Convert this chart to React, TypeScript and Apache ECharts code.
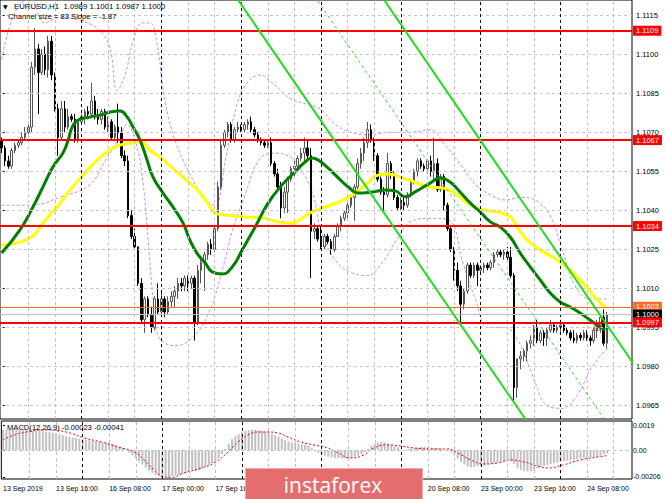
import React, { useEffect, useRef } from "react";
import * as echarts from "echarts";

// ---------- categories / ticks ----------
const dayLabels = ["13 Sep", "16 Sep", "17 Sep", "18 Sep", "19 Sep", "20 Sep", "23 Sep", "24 Sep"];
const firstLabelText = "13 Sep 2019";
const slotCount = 190;
const labelEvery = 16;
const hiddenLabelSlots = [80, 96, 112]; // covered by the watermark in the reference
const gridEvery = 8;
const barsPerDay = 24;

const priceTicks = [1.0965, 1.098, 1.0995, 1.101, 1.1025, 1.104, 1.1055, 1.107, 1.1085, 1.11, 1.1115];
const priceAxisMin = 1.09599;
const priceAxisMax = 1.11208;
const macdTicks = [0.0019, 0, -0.00206];
const macdTickText = ["0.0019", "0.00", "-0.00206"];
const macdAxisMin = -0.00222;
const macdAxisMax = 0.00226;

// ---------- candles: open, high, low, close ----------
const ohlc: number[][] = [
  [1.1067, 1.1068, 1.1062, 1.1064], [1.1064, 1.1065, 1.1057, 1.1059], [1.1059, 1.1061, 1.1056, 1.1057], [1.1057, 1.1064, 1.1056, 1.1063],
  [1.1063, 1.1066, 1.1062, 1.1065], [1.1065, 1.1067, 1.1064, 1.1066], [1.1066, 1.107, 1.1065, 1.1068], [1.1068, 1.1072, 1.1067, 1.107],
  [1.107, 1.1074, 1.1068, 1.1072], [1.1072, 1.1097, 1.107, 1.1095], [1.1095, 1.111, 1.1092, 1.1102], [1.1102, 1.1104, 1.1077, 1.1093],
  [1.1093, 1.1102, 1.1092, 1.11], [1.11, 1.1103, 1.1092, 1.1094], [1.1094, 1.1107, 1.1091, 1.1105], [1.1105, 1.1107, 1.109, 1.1092],
  [1.1092, 1.1093, 1.1078, 1.1079], [1.1079, 1.1081, 1.1061, 1.1068], [1.1068, 1.1082, 1.1067, 1.1079], [1.1079, 1.1082, 1.107, 1.1072],
  [1.1072, 1.1079, 1.1071, 1.1076], [1.1076, 1.1077, 1.1074, 1.1075], [1.1075, 1.1077, 1.1066, 1.1067], [1.1067, 1.1075, 1.1066, 1.1074],
  [1.1074, 1.1077, 1.1073, 1.1076], [1.1076, 1.1079, 1.1073, 1.1078], [1.1078, 1.108, 1.1075, 1.1077], [1.1077, 1.1089, 1.1076, 1.1082],
  [1.1082, 1.1084, 1.1075, 1.1076], [1.1076, 1.1079, 1.1073, 1.1075], [1.1075, 1.1079, 1.1073, 1.1078], [1.1078, 1.1079, 1.1071, 1.1072],
  [1.1072, 1.1076, 1.107, 1.1074], [1.1074, 1.1075, 1.1067, 1.1068], [1.1068, 1.1073, 1.1067, 1.1072], [1.1072, 1.1081, 1.1066, 1.107],
  [1.107, 1.1072, 1.106, 1.1061], [1.1061, 1.1063, 1.1057, 1.1059], [1.1059, 1.1061, 1.1037, 1.1038], [1.1038, 1.104, 1.1029, 1.103],
  [1.103, 1.1033, 1.1025, 1.1026], [1.1026, 1.1026, 1.1011, 1.1012], [1.1012, 1.1014, 1.0997, 1.0998], [1.0998, 1.1007, 1.0993, 1.1006],
  [1.1006, 1.1007, 1.0999, 1.1], [1.1, 1.1003, 1.0993, 1.0995], [1.0995, 1.1007, 1.0994, 1.1006], [1.1006, 1.1012, 1.1, 1.1001],
  [1.1001, 1.1009, 1.1, 1.1006], [1.1006, 1.1007, 1.0999, 1.1001], [1.1001, 1.1007, 1.1, 1.1005], [1.1005, 1.1009, 1.1003, 1.1007],
  [1.1007, 1.1011, 1.1003, 1.1009], [1.1009, 1.1014, 1.1006, 1.1012], [1.1012, 1.1014, 1.1009, 1.1011], [1.1011, 1.1015, 1.1009, 1.1014],
  [1.1014, 1.1015, 1.1009, 1.1012], [1.1012, 1.1015, 1.101, 1.1014], [1.1014, 1.1015, 1.099, 1.0997], [1.0997, 1.1019, 1.0996, 1.1017],
  [1.1017, 1.1022, 1.1012, 1.102], [1.102, 1.1024, 1.1009, 1.1023], [1.1023, 1.1028, 1.1021, 1.1027], [1.1027, 1.1029, 1.1023, 1.1025],
  [1.1025, 1.1034, 1.1024, 1.1033], [1.1033, 1.1051, 1.1032, 1.1049], [1.1049, 1.1067, 1.1048, 1.1065], [1.1065, 1.1071, 1.1064, 1.107],
  [1.107, 1.1074, 1.1068, 1.1073], [1.1073, 1.1074, 1.1066, 1.1067], [1.1067, 1.1072, 1.1066, 1.1071], [1.1071, 1.1074, 1.107, 1.1072],
  [1.1072, 1.1073, 1.107, 1.1071], [1.1071, 1.1074, 1.107, 1.1073], [1.1073, 1.1075, 1.1071, 1.1074], [1.1074, 1.1076, 1.107, 1.1071],
  [1.1071, 1.1072, 1.1068, 1.1069], [1.1069, 1.107, 1.1066, 1.1067], [1.1067, 1.1068, 1.1065, 1.1066], [1.1066, 1.1067, 1.1064, 1.1065],
  [1.1065, 1.1067, 1.1064, 1.1066], [1.1066, 1.1068, 1.1057, 1.1058], [1.1058, 1.1059, 1.1053, 1.1054], [1.1054, 1.1056, 1.1047, 1.1049],
  [1.1049, 1.1051, 1.1037, 1.1041], [1.1041, 1.1049, 1.1039, 1.1047], [1.1047, 1.1053, 1.1039, 1.1052], [1.1052, 1.1057, 1.1051, 1.1056],
  [1.1056, 1.1059, 1.1053, 1.1057], [1.1057, 1.1061, 1.1055, 1.106], [1.106, 1.1064, 1.1059, 1.1062], [1.1062, 1.1068, 1.1059, 1.1064],
  [1.1064, 1.1067, 1.1059, 1.1061], [1.1061, 1.1064, 1.1014, 1.1032], [1.1032, 1.1035, 1.1029, 1.1033], [1.1033, 1.1034, 1.1028, 1.1029],
  [1.1029, 1.1034, 1.1025, 1.1026], [1.1026, 1.1031, 1.1025, 1.103], [1.103, 1.1031, 1.1027, 1.1028], [1.1028, 1.1029, 1.1023, 1.1025],
  [1.1025, 1.1031, 1.1024, 1.103], [1.103, 1.1035, 1.103, 1.1034], [1.1034, 1.1038, 1.1032, 1.1037], [1.1037, 1.104, 1.1036, 1.1039],
  [1.1039, 1.1043, 1.1037, 1.1042], [1.1042, 1.1046, 1.1041, 1.1045], [1.1045, 1.105, 1.1036, 1.1049], [1.1049, 1.106, 1.1048, 1.1058],
  [1.1058, 1.1064, 1.1056, 1.1062], [1.1062, 1.1068, 1.1059, 1.1066], [1.1066, 1.1074, 1.1064, 1.1071], [1.1071, 1.1073, 1.1066, 1.1067],
  [1.1067, 1.1068, 1.1059, 1.1061], [1.1061, 1.1062, 1.1051, 1.1052], [1.1052, 1.1053, 1.1046, 1.1047], [1.1047, 1.1049, 1.104, 1.1046],
  [1.1046, 1.1062, 1.1045, 1.1058], [1.1058, 1.1059, 1.1052, 1.1054], [1.1054, 1.1055, 1.1044, 1.1045], [1.1045, 1.1046, 1.104, 1.1041],
  [1.1041, 1.1045, 1.104, 1.1043], [1.1043, 1.1045, 1.104, 1.1042], [1.1042, 1.1047, 1.1041, 1.1046], [1.1046, 1.1052, 1.1045, 1.1051],
  [1.1051, 1.1056, 1.105, 1.1055], [1.1055, 1.106, 1.1053, 1.1059], [1.1059, 1.106, 1.1056, 1.1057], [1.1057, 1.1058, 1.1055, 1.1056],
  [1.1056, 1.106, 1.1054, 1.1059], [1.1059, 1.1061, 1.1053, 1.1055], [1.1055, 1.1068, 1.1052, 1.1058], [1.1058, 1.106, 1.1047, 1.1048],
  [1.1048, 1.1054, 1.1047, 1.1053], [1.1053, 1.1054, 1.104, 1.1042], [1.1042, 1.1043, 1.1032, 1.1033], [1.1033, 1.1034, 1.1024, 1.1025],
  [1.1025, 1.1026, 1.1013, 1.1017], [1.1017, 1.102, 1.1009, 1.1011], [1.1011, 1.1013, 1.0997, 1.1004], [1.1004, 1.101, 1.1002, 1.1009],
  [1.1009, 1.102, 1.1008, 1.1019], [1.1019, 1.102, 1.1014, 1.1015], [1.1015, 1.102, 1.1014, 1.1019], [1.1019, 1.102, 1.1011, 1.1017],
  [1.1017, 1.1019, 1.1016, 1.1018], [1.1018, 1.102, 1.1016, 1.1019], [1.1019, 1.102, 1.1017, 1.1018], [1.1018, 1.1021, 1.1017, 1.102],
  [1.102, 1.1024, 1.1018, 1.1023], [1.1023, 1.1025, 1.1022, 1.1024], [1.1024, 1.1025, 1.1022, 1.1023], [1.1023, 1.1025, 1.1021, 1.1024],
  [1.1024, 1.1026, 1.1021, 1.1022], [1.1022, 1.1026, 1.1014, 1.1015], [1.1015, 1.1016, 1.0967, 1.0972], [1.0972, 1.0983, 1.0968, 1.0983],
  [1.0983, 1.0986, 1.0979, 1.0984], [1.0984, 1.0987, 1.0982, 1.0986], [1.0986, 1.099, 1.0982, 1.0989], [1.0989, 1.0992, 1.0987, 1.099],
  [1.099, 1.0996, 1.0988, 1.0995], [1.0995, 1.0998, 1.0989, 1.099], [1.099, 1.0994, 1.0989, 1.0993], [1.0993, 1.0994, 1.0988, 1.0991],
  [1.0991, 1.0995, 1.0988, 1.0994], [1.0994, 1.0998, 1.0993, 1.0996], [1.0996, 1.0997, 1.0993, 1.0994], [1.0994, 1.0996, 1.0993, 1.0995],
  [1.0995, 1.0998, 1.0993, 1.0996], [1.0996, 1.0997, 1.0993, 1.0994], [1.0994, 1.0995, 1.0992, 1.0993], [1.0993, 1.0994, 1.099, 1.0991],
  [1.0991, 1.0994, 1.0989, 1.099], [1.099, 1.0993, 1.0989, 1.0992], [1.0992, 1.0993, 1.099, 1.0991], [1.0991, 1.0994, 1.099, 1.0993],
  [1.0993, 1.0994, 1.099, 1.0991], [1.0991, 1.0992, 1.0988, 1.099], [1.099, 1.0995, 1.0989, 1.0994], [1.0994, 1.0998, 1.0991, 1.0996],
  [1.0996, 1.1, 1.0993, 1.0999], [1.0999, 1.1002, 1.0988, 1.0989], [1.0989, 1.1001, 1.0987, 1.1],
];

// ---------- indicators: [bar index, value] ----------
const maGreen: number[][] = [
  [0, 1.10237], [5.5, 1.10325], [9.4, 1.10413], [12.4, 1.1049], [15.4, 1.10567], [18.4, 1.1062], [20, 1.1067], [21.2, 1.1072],
  [23, 1.10747], [26.6, 1.10759], [29.6, 1.10766], [32.6, 1.10778], [35.6, 1.10782], [37.7, 1.10759], [39.5, 1.1072], [41.6, 1.1067],
  [43.7, 1.10594], [45.5, 1.10528], [48.5, 1.10467], [51.5, 1.10413], [54.5, 1.10352], [56.6, 1.10286], [58.7, 1.10236], [61.2, 1.10198],
  [63.3, 1.10164], [66.3, 1.10156], [69.3, 1.10183], [72.3, 1.10248], [76.2, 1.10336], [80.1, 1.10428], [84.3, 1.10498], [88.2, 1.10548],
  [91.2, 1.10586], [93.3, 1.10601], [95.1, 1.10594], [98.1, 1.10563], [101.2, 1.10525], [104.2, 1.1049], [107.2, 1.10467], [111.4, 1.10471],
  [115.3, 1.10478], [118.3, 1.10475], [121.3, 1.10452], [124.3, 1.10471], [128.8, 1.10505], [131.8, 1.10524], [134.8, 1.10509],
  [137.8, 1.10471], [140.9, 1.10428], [143.9, 1.10394], [146.9, 1.10356], [149.9, 1.10336], [152.9, 1.10298], [155.9, 1.10236],
  [158.9, 1.10183], [161.9, 1.10133], [164.9, 1.10083], [167.9, 1.10048], [170.9, 1.10029], [173.9, 1.10006], [176.9, 1.09979],
  [179.9, 1.09952], [181.5, 1.09941],
];
const maYellow: number[][] = [
  [0, 1.10267], [8.5, 1.10294], [12.4, 1.10352], [16.6, 1.10413], [20.6, 1.10479], [24.5, 1.10536], [28.7, 1.10594], [32.6, 1.10632],
  [35.6, 1.10651], [39.5, 1.10659], [41.6, 1.10667], [44.6, 1.10632], [48.5, 1.10594], [52.7, 1.10548], [56.6, 1.10505], [59.7, 1.10467],
  [62.7, 1.10413], [64.2, 1.1039], [67.2, 1.10382], [73.2, 1.10375], [78.3, 1.10371], [83.1, 1.10356], [87.3, 1.10352], [90.3, 1.10371],
  [93.3, 1.10394], [97.2, 1.10413], [101.2, 1.10432], [105.4, 1.10459], [109.3, 1.10498], [113.2, 1.10536], [116.2, 1.1054],
  [120.4, 1.10525], [124.3, 1.10509], [128.8, 1.1049], [132.7, 1.10486], [137, 1.10459], [140.9, 1.10421], [144.8, 1.10402],
  [149, 1.10394], [152.9, 1.10375], [155, 1.10336], [158, 1.10286], [161.9, 1.10248], [167, 1.1021], [170.9, 1.10171],
  [174.8, 1.10121], [179.1, 1.10056], [181.5, 1.10029],
];
const bandUpper: number[][] = [
  [0, 1.1098], [2.5, 1.1111], [5.5, 1.1119], [8.5, 1.1121], [13, 1.1112], [17.5, 1.1114], [23.6, 1.1113], [29.6, 1.1109],
  [32.6, 1.1102], [34.7, 1.1086], [37.1, 1.1092], [39.5, 1.1105], [42.2, 1.1112], [44.6, 1.1112], [46.7, 1.1104], [49.1, 1.1082],
  [52.1, 1.1067], [56.6, 1.1054], [61.2, 1.1044], [64.2, 1.1042], [67.2, 1.1059], [70.2, 1.1078], [73.2, 1.1088], [77.7, 1.1092],
  [82.2, 1.1088], [86.7, 1.1083], [91.2, 1.1081], [95.7, 1.1079], [100.3, 1.1073], [104.8, 1.107], [110.8, 1.1069], [116.8, 1.107],
  [122.8, 1.107], [128.8, 1.1071], [133.3, 1.1065], [137.8, 1.1058], [142.4, 1.105], [146.9, 1.1046], [151.4, 1.1044], [155.9, 1.1045],
  [160.4, 1.1044], [164.9, 1.1038], [168.5, 1.1025], [172.4, 1.1011], [176.9, 1.1006], [182.1, 1.1006],
];
const bandLower: number[][] = [
  [0, 1.1042], [8.5, 1.1042], [17.5, 1.1045], [26.6, 1.105], [31.1, 1.1059], [35, 1.1067], [37.7, 1.1073], [40.1, 1.1067],
  [42.2, 1.1054], [44, 1.1029], [45.5, 1.1006], [47, 1.0992], [52.1, 1.0988], [58.1, 1.0992], [62.7, 1.1002], [66.3, 1.1017],
  [69.3, 1.1032], [73.2, 1.1046], [77.1, 1.1059], [81.3, 1.1062], [86.1, 1.1061], [90.3, 1.1055], [93.6, 1.1046], [96.3, 1.1031],
  [100.9, 1.102], [105.4, 1.1016], [109.9, 1.1015], [114.4, 1.102], [118.9, 1.1029], [123.4, 1.1036], [129.4, 1.1037], [134.8, 1.1036],
  [138.4, 1.1021], [142.4, 1.1006], [146.3, 1.0995], [151.4, 1.0995], [155.3, 1.099], [159.5, 1.0977], [164, 1.0965], [168.5, 1.0964],
  [173, 1.0969], [177.5, 1.098], [182.1, 1.0987],
];
const channelLower: number[][] = [[69, 1.11247], [160, 1.09551]];
const channelUpper: number[][] = [[113, 1.11245], [190, 1.0981]];
const channelMiddle: number[][] = [[93, 1.11242], [185, 1.09527]];

const redLevels = [1.1109, 1.1067, 1.1034, 1.0997];
const pendingLevel = 1.1003;
const bidLevel = 1.1;
const signalMarks: number[][] = [[179, 1.0995]];

const macdHist = [
  0.00155, 0.00157, 0.00158, 0.00158, 0.00157, 0.00156, 0.00155, 0.00155, 0.00154, 0.00152,
  0.0015, 0.00148, 0.00146, 0.00143, 0.0014, 0.00136, 0.0013, 0.00124, 0.00115, 0.00108,
  0.00102, 0.00097, 0.00093, 0.00089, 0.00085, 0.00082, 0.00078, 0.00074, 0.00069, 0.00065,
  0.00062, 0.00058, 0.00054, 0.00048, 0.0004, 0.0003, 0.00018, 0.00002, -0.00018, -0.0004,
  -0.00062, -0.00085, -0.0011, -0.00135, -0.00155, -0.00175, -0.0019, -0.002, -0.00206, -0.00208,
  -0.00206, -0.002, -0.00195, -0.0019, -0.00183, -0.00176, -0.0017, -0.00163, -0.0016, -0.00152,
  -0.00142, -0.0013, -0.00118, -0.00102, -0.00085, -0.0006, -0.0003, 0.0001, 0.0005, 0.00085,
  0.0011, 0.00125, 0.00138, 0.00148, 0.00155, 0.00158, 0.00158, 0.00155, 0.0015, 0.00143,
  0.00135, 0.00125, 0.00115, 0.00102, 0.0009, 0.00078, 0.00068, 0.0006, 0.00055, 0.0005,
  0.00045, 0.0004, 0.00036, 0.0002, 0.0, -0.00018, -0.0003, -0.0004, -0.00048, -0.00055,
  -0.0006, -0.00062, -0.00062, -0.0006, -0.00058, -0.00055, -0.0005, -0.00042, -0.0003, -0.00012,
  0.0001, 0.00035, 0.0005, 0.0006, 0.00064, 0.0006, 0.00052, 0.00042, 0.00032, 0.00022,
  0.00005, 0.00002, 0.00008, 0.00013, 0.00018, 0.00022, 0.00025, 0.00025, 0.00022, 0.0002,
  0.00018, 0.00015, 0.00012, 0.00005, -0.00005, -0.00015, -0.0004, -0.00065, -0.0009, -0.0011,
  -0.00125, -0.0013, -0.00128, -0.00122, -0.00118, -0.00112, -0.00108, -0.00102, -0.00098, -0.00094,
  -0.0009, -0.00088, -0.00086, -0.00085, -0.00105, -0.00135, -0.00152, -0.0016, -0.00162, -0.00158,
  -0.0015, -0.0014, -0.0013, -0.0012, -0.00113, -0.00107, -0.001, -0.00095, -0.0009, -0.00085,
  -0.0008, -0.00076, -0.00072, -0.00068, -0.00064, -0.0006, -0.00058, -0.00056, -0.00054, -0.0005,
  -0.00042, -0.00032, -0.00023,
];
const macdSignal: number[][] = [
  [0, 0.0008], [2.5, 0.0011], [7, 0.00141], [13, 0.00157], [19, 0.00141], [24.5, 0.00095], [29.6, 0.00064], [34.7, 0.00025],
  [39.5, -0.00013], [42.5, -0.00075], [45.5, -0.00152], [48.5, -0.00206], [50.6, -0.0021], [54.5, -0.00175], [59.7, -0.00137],
  [63.6, -0.00098], [67.8, -0.00013], [70.8, 0.00064], [73.8, 0.00118], [76.8, 0.00141], [79.8, 0.00141], [82.8, 0.00134],
  [85.8, 0.00103], [89.7, 0.00064], [93.6, 0.00041], [97.8, 0.00018], [100.5, -0.00015], [104.8, -0.00059], [108.7, -0.00036],
  [111.7, 0.00018], [115.9, 0.00041], [119.8, 0.00033], [123.7, 0.00018], [128.8, 0.0001], [133.9, 0.0001], [137, -0.00021],
  [140.9, -0.00075], [144.8, -0.00106], [149, -0.00098], [152.9, -0.00075], [156.8, -0.0009], [161, -0.00121], [164, -0.00137],
  [168.8, -0.00113], [173.9, -0.00075], [179.1, -0.00052], [182.1, -0.00041],
];

const FONT = '"Liberation Sans", Arial, "DejaVu Sans", sans-serif';

function buildOption() {
  const categories = Array.from({ length: slotCount }, (_, i) => {
    const day = dayLabels[Math.floor(i / barsPerDay)];
    const h = i % barsPerDay;
    return `${day} ${String(h).padStart(2, "0")}:00`;
  });
  const candleData = ohlc.map(([o, h, l, c]) => [o, c, l, h]);
  const last = ohlc[ohlc.length - 1];

  const vLines: any[] = [];
  for (let i = gridEvery; i < slotCount; i += gridEvery) {
    const day = i % barsPerDay === 0;
    vLines.push({
      xAxis: i,
      lineStyle: { color: day ? "#000000" : "#c0c0c0", type: [3, 3], width: 1 },
      label: { show: false },
    });
  }
  const hLines = priceTicks.map((v) => ({
    yAxis: v,
    lineStyle: { color: "#c8c8c8", type: [3, 3], width: 1 },
    label: { show: false },
  }));

  const tag = (bg: string) => ({
    show: true,
    position: "end",
    distance: 1,
    color: "#ffffff",
    backgroundColor: bg,
    padding: [1, 3, 0, 3],
    fontSize: 7.5,
    lineHeight: 9,
    fontFamily: FONT,
  });
  const levelLines: any[] = [
    {
      yAxis: pendingLevel,
      lineStyle: { color: "#ff6a1a", width: 1, type: "solid" },
      label: { ...tag("#ff6a2a"), formatter: pendingLevel.toFixed(4) },
    },
    {
      yAxis: bidLevel,
      lineStyle: { color: "#c0c0c0", width: 1, type: "solid" },
      label: { ...tag("#000000"), formatter: bidLevel.toFixed(4) },
    },
    ...redLevels.map((v) => ({
      yAxis: v,
      lineStyle: { color: "#ff0000", width: 2, type: "solid" },
      label: { ...tag("#ff0000"), formatter: v.toFixed(4) },
    })),
  ];

  const lineCommon = { type: "line", showSymbol: false, symbol: "none", silent: true, clip: true, animation: false };

  return {
    animation: false,
    backgroundColor: "#ffffff",
    textStyle: { fontFamily: FONT },
    grid: [
      { left: 0, top: 0, width: 632, height: 419, show: true, borderColor: "#000000", borderWidth: 1, backgroundColor: "transparent" },
      { left: 0, top: 421, width: 632, height: 58, show: true, borderColor: "#000000", borderWidth: 1, backgroundColor: "transparent" },
    ],
    xAxis: [
      { type: "category", gridIndex: 0, data: categories, boundaryGap: true, axisLine: { show: false }, axisTick: { show: false }, axisLabel: { show: false }, splitLine: { show: false } },
      { type: "value", gridIndex: 0, min: -0.5, max: slotCount - 0.5, show: false },
      {
        type: "category", gridIndex: 1, data: categories, boundaryGap: true,
        axisLine: { show: false }, axisTick: { show: false }, splitLine: { show: false },
        axisLabel: {
          interval: (i: number) => i % labelEvery === 0 && !hiddenLabelSlots.includes(i),
          formatter: (v: string, i: number) => (i === 0 ? firstLabelText : v),
          align: "left", fontSize: 7, color: "#000000", margin: 6, fontFamily: FONT,
        },
      },
      { type: "value", gridIndex: 1, min: -0.5, max: slotCount - 0.5, show: false },
    ],
    yAxis: [
      {
        type: "value", gridIndex: 0, position: "right", min: priceAxisMin, max: priceAxisMax,
        axisLine: { show: false },
        axisTick: { show: true, length: 3, lineStyle: { color: "#000000" }, customValues: priceTicks },
        axisLabel: { customValues: priceTicks, formatter: (v: number) => v.toFixed(4), fontSize: 7.5, color: "#000000", margin: 4, fontFamily: FONT },
        splitLine: { show: false },
      },
      {
        type: "value", gridIndex: 1, position: "right", min: macdAxisMin, max: macdAxisMax,
        axisLine: { show: false },
        axisTick: { show: true, length: 2, lineStyle: { color: "#000000" }, customValues: macdTicks },
        axisLabel: {
          customValues: macdTicks,
          formatter: (v: number) => {
            const k = macdTicks.findIndex((t) => Math.abs(t - v) < 1e-7);
            return k >= 0 ? macdTickText[k] : "";
          },
          fontSize: 7, color: "#000000", margin: 1, fontFamily: FONT,
        },
        splitLine: { show: false },
      },
    ],
    series: [
      {
        ...lineCommon, name: "grid-main", xAxisIndex: 1, yAxisIndex: 0, data: [], z: 1,
        markLine: { silent: true, precision: 6, symbol: ["none", "none"], animation: false, data: [...hLines, ...vLines] },
      },
      {
        ...lineCommon, name: "grid-macd", xAxisIndex: 3, yAxisIndex: 1, data: [], z: 1,
        markLine: {
          silent: true, precision: 6, symbol: ["none", "none"], animation: false,
          data: [{ yAxis: 0, lineStyle: { color: "#c0c0c0", type: [3, 3], width: 1 }, label: { show: false } }, ...vLines],
        },
      },
      {
        ...lineCommon, name: "band-up", xAxisIndex: 1, yAxisIndex: 0, data: bandUpper, smooth: 0.4, z: 2,
        lineStyle: { color: "#c98ef0", width: 1, type: [3, 2] },
      },
      {
        ...lineCommon, name: "band-low", xAxisIndex: 1, yAxisIndex: 0, data: bandLower, smooth: 0.4, z: 2,
        lineStyle: { color: "#c98ef0", width: 1, type: [3, 2] },
      },
      {
        type: "candlestick", name: "EURUSD", xAxisIndex: 0, yAxisIndex: 0, data: candleData, barWidth: 2, z: 3, silent: true,
        itemStyle: { color: "#ffffff", color0: "#000000", borderColor: "#555555", borderColor0: "#000000", borderWidth: 1 },
      },
      {
        ...lineCommon, name: "ma-yellow", xAxisIndex: 1, yAxisIndex: 0, data: maYellow, smooth: 0.5, z: 4,
        lineStyle: { color: "#ffff00", width: 3 },
      },
      {
        ...lineCommon, name: "ma-green", xAxisIndex: 1, yAxisIndex: 0, data: maGreen, smooth: 0.5, z: 4,
        lineStyle: { color: "#008000", width: 3 },
      },
      {
        ...lineCommon, name: "levels", xAxisIndex: 1, yAxisIndex: 0, data: [], z: 5,
        markLine: { silent: true, precision: 6, symbol: ["none", "none"], animation: false, data: levelLines },
      },
      {
        ...lineCommon, name: "ch-low", xAxisIndex: 1, yAxisIndex: 0, data: channelLower, z: 6,
        lineStyle: { color: "#22dd22", width: 2 },
      },
      {
        ...lineCommon, name: "ch-up", xAxisIndex: 1, yAxisIndex: 0, data: channelUpper, z: 6,
        lineStyle: { color: "#22dd22", width: 2 },
      },
      {
        ...lineCommon, name: "ch-mid", xAxisIndex: 1, yAxisIndex: 0, data: channelMiddle, z: 6,
        lineStyle: { color: "#33dd33", width: 1, type: [3, 3] },
      },
      {
        type: "scatter", name: "mark", xAxisIndex: 1, yAxisIndex: 0, data: signalMarks, symbol: "circle", symbolSize: 6, z: 7, silent: true,
        itemStyle: { color: "rgba(0,0,0,0)", borderColor: "#ff0000", borderWidth: 1 },
      },
      {
        type: "bar", name: "MACD", xAxisIndex: 2, yAxisIndex: 1, data: macdHist, barWidth: 2, z: 3, silent: true,
        itemStyle: { color: "#c0c0c0" },
      },
      {
        ...lineCommon, name: "Signal", xAxisIndex: 3, yAxisIndex: 1, data: macdSignal, smooth: 0.5, z: 4,
        lineStyle: { color: "#ff0000", width: 1, type: [2, 2] },
      },
    ],
    graphic: [
      { type: "text", left: 3, top: 3, z: 100, style: { text: "\u25BC", fontSize: 6, fill: "#000000", fontFamily: '"DejaVu Sans", sans-serif' } },
      {
        type: "text", left: 14, top: 2, z: 100,
        style: { text: `EURUSD,H1  ${last.map((v) => v.toFixed(4)).join(" ")}`, fontSize: 7.8, fill: "#000000", fontFamily: FONT },
      },
      { type: "text", left: 8, top: 12, z: 100, style: { text: "Channel size = 83 Slope = -1.87", fontSize: 7.6, fill: "#000000", fontFamily: FONT } },
      { type: "text", left: 7, top: 423, z: 100, style: { text: "MACD(12,26,9) -0.00023 -0.00041", fontSize: 7.6, fill: "#000000", fontFamily: FONT } },
      {
        type: "rect", left: 245, top: 468, z: 200, shape: { width: 177, height: 32 },
        style: { fill: "#e46e6e", stroke: "#f0a8a8", lineWidth: 1 },
      },
      {
        type: "text", x: 333, y: 485, z: 201,
        style: { text: "instaforex", fontSize: 21, fill: "#ffffff", fontFamily: '"Open Sans", Roboto, sans-serif', align: "center", verticalAlign: "middle" },
      },
    ],
  };
}

export default function App() {
  const ref = useRef<HTMLDivElement>(null);
  useEffect(() => {
    document.body.style.margin = "0";
    const chart = echarts.init(ref.current as HTMLDivElement, undefined, { renderer: "svg" });
    chart.setOption(buildOption() as any);
    return () => chart.dispose();
  }, []);
  return <div ref={ref} style={{ width: 665, height: 499 }} />;
}
